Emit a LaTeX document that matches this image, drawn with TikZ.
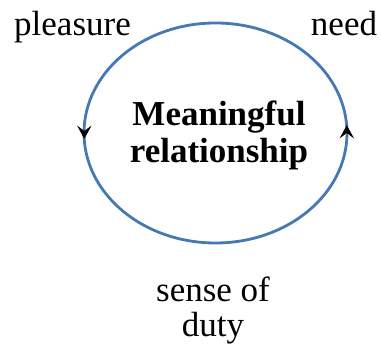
\documentclass[tikz,border=0pt]{standalone}
\usepackage{fontspec}
\setmainfont{Liberation Serif}
\usetikzlibrary{arrows.meta}
\definecolor{loopblue}{RGB}{70,120,180}
\tikzset{
  lbl/.style={inner sep=0pt, font=\fontsize{35}{35}\selectfont, anchor=base, align=center},
  ctr/.style={inner sep=0pt, font=\fontsize{35}{37}\selectfont\bfseries, anchor=base, align=center},
  headfill/.style={fill=black, draw=black, line width=0.8pt, line join=miter},
}
\begin{document}
\begin{tikzpicture}[x=1pt,y=1pt]
\useasboundingbox (0,0) rectangle (381,353);
\coordinate (c) at (215.5,220);
\draw[loopblue, line width=2.8pt] (c) ellipse [x radius=131.5, y radius=110];
% arrowheads on the loop
\coordinate (ltip) at (84.3,215);
\coordinate (rtip) at (346.8,227);
\filldraw[headfill] (ltip) -- ++(-6,11) -- ++(6,-4.5) -- ++(6,4.5) -- cycle;
\filldraw[headfill] (rtip) -- ++(-6,-11) -- ++(6,4.5) -- ++(6,-4.5) -- cycle;
\node[lbl] (pleasure) at (72.5,317) {pleasure};
\node[lbl] (need) at (344,317) {need};
\node[ctr] (mr) at (219,190) {Meaningful\\relationship};
\node[lbl] (duty) at (213,16) {sense of\\duty};
\end{tikzpicture}
\end{document}
